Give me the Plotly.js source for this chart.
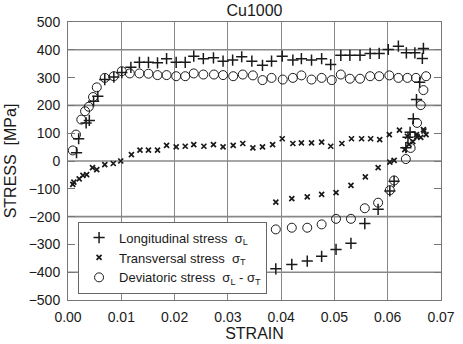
<!DOCTYPE html>
<html>
<head>
<meta charset="UTF-8">
<script src="https://cdn.plot.ly/plotly-3.0.1.min.js"></script>
<style>
	body { margin: 0; background: #fff; }
	#plot { width: 463px; height: 344px; }
</style>
</head>
<body>
<div id="plot"></div>
<script>
	// longitudinal stress sigma_L (MPa) vs strain
	var strainL = [0.0016, 0.0020, 0.0034, 0.0040, 0.0048, 0.0056, 0.0069, 0.0086, 0.0101, 0.0118,
		0.0134, 0.0151, 0.0168, 0.0185, 0.0203, 0.0220, 0.0236, 0.0254, 0.0273, 0.0291,
		0.0309, 0.0326, 0.0345, 0.0365, 0.0382, 0.0402, 0.0422, 0.0438, 0.0457, 0.0476,
		0.0493, 0.0512, 0.0529, 0.0548, 0.0567, 0.0584, 0.0601, 0.0620, 0.0635, 0.0651,
		0.0667, 0.0665, 0.0660, 0.0654, 0.0648, 0.0642, 0.0638, 0.0634,
		0.0612, 0.0604, 0.0582, 0.0557, 0.0531, 0.0503, 0.0476, 0.0449, 0.0420, 0.0390];
	var stressL = [30, 80, 137, 146, 215, 233, 293, 302, 318, 337,
		355, 355, 353, 368, 355, 355, 377, 368, 371, 359,
		363, 375, 359, 344, 359, 377, 363, 368, 363, 368,
		347, 380, 380, 380, 387, 387, 401, 413, 389, 389,
		405, 369, 283, 221, 152, 103, 85, 48,
		-73, -108, -174, -225, -296, -318, -343, -360, -372, -388];

	// transversal stress sigma_T
	var strainT = [0.0009, 0.0011, 0.0021, 0.0028, 0.0035, 0.0046, 0.0054, 0.0069, 0.0085, 0.0099,
		0.0119, 0.0135, 0.0151, 0.0168, 0.0185, 0.0203, 0.0220, 0.0236, 0.0255, 0.0273,
		0.0291, 0.0310, 0.0328, 0.0347, 0.0365, 0.0384, 0.0402, 0.0422, 0.0438, 0.0457,
		0.0476, 0.0493, 0.0514, 0.0532, 0.0551, 0.0568, 0.0585, 0.0603, 0.0622, 0.0637,
		0.0654, 0.0667, 0.0672,
		0.0668, 0.0662, 0.0655, 0.0647, 0.0640, 0.0632, 0.0612, 0.0604,
		0.0582, 0.0558, 0.0531, 0.0503, 0.0476, 0.0449, 0.0420, 0.0390];
	var stressT = [-84, -76, -64, -52, -49, -24, -31, -13, -9, 0,
		23, 39, 39, 39, 56, 51, 53, 59, 53, 59,
		51, 56, 63, 47, 51, 59, 80, 63, 65, 65,
		68, 53, 63, 80, 80, 80, 77, 95, 111, 89,
		95, 113, 95,
		108, 85, 88, 70, 60, 41, 2, -4,
		-24, -57, -88, -114, -120, -129, -135, -148];

	// deviatoric stress sigma_L - sigma_T
	var strainD = [0.0009, 0.0015, 0.0025, 0.0032, 0.0039, 0.0047, 0.0054, 0.0069, 0.0086, 0.0101,
		0.0116, 0.0134, 0.0151, 0.0168, 0.0185, 0.0203, 0.0220, 0.0236, 0.0254, 0.0274,
		0.0291, 0.0310, 0.0328, 0.0347, 0.0365, 0.0382, 0.0403, 0.0422, 0.0438, 0.0457,
		0.0476, 0.0495, 0.0512, 0.0529, 0.0548, 0.0567, 0.0584, 0.0603, 0.0620, 0.0637,
		0.0653, 0.0672,
		0.0667, 0.0662, 0.0655, 0.0648, 0.0643, 0.0634,
		0.0612, 0.0604, 0.0582, 0.0557, 0.0531, 0.0503, 0.0476, 0.0449, 0.0420, 0.0390];
	var stressD = [38, 95, 149, 179, 195, 230, 265, 299, 305, 323,
		315, 315, 314, 309, 309, 305, 305, 315, 311, 311,
		309, 305, 311, 308, 291, 299, 293, 299, 308, 293,
		299, 291, 311, 296, 296, 305, 305, 308, 299, 299,
		299, 305,
		255, 201, 137, 90, 47, 7,
		-70, -105, -150, -170, -208, -208, -228, -240, -240, -246];

	var seriesNames = ['Longitudinal stress  σ<sub>L</sub>', 'Transversal stress  σ<sub>T</sub>', 'Deviatoric stress  σ<sub>L</sub> - σ<sub>T</sub>'];

	var strainRange = [0, 0.07];
	var stressRange = [-500, 500];
	// horizontal grid only every 200 MPa (ticks every 100)
	var stressGridLevels = [-400, -200, 0, 200, 400];

	var ink = '#1a1a1a';
	var gridColor = '#888888';
	var fontFam = 'Arial, "Liberation Sans", sans-serif';

	var traceL = {
		x: strainL, y: stressL, mode: 'markers', type: 'scatter', name: seriesNames[0],
		marker: {symbol: 'cross-thin', size: 8, line: {color: ink, width: 1.5}}
	};
	var traceT = {
		x: strainT, y: stressT, mode: 'markers', type: 'scatter', name: seriesNames[1],
		marker: {symbol: 'x-thin', size: 5, line: {color: ink, width: 1.7}}
	};
	var traceD = {
		x: strainD, y: stressD, mode: 'markers', type: 'scatter', name: seriesNames[2],
		marker: {symbol: 'circle-open', size: 9, color: ink, line: {color: ink, width: 1}}
	};

	// horizontal grid lines, a touch heavier so they survive the screenshot
	var gridShapes = stressGridLevels.map(function(level)
	{
		return {
			type: 'line', layer: 'below',
			xref: 'x', x0: strainRange[0], x1: strainRange[1],
			yref: 'y', y0: level, y1: level,
			line: {color: gridColor, width: 1.6}
		};
	});

	var layout = {
		width: 463,
		height: 344,
		margin: {l: 68, r: 22, t: 22, b: 44},
		paper_bgcolor: '#fff',
		plot_bgcolor: 'rgba(0,0,0,0)',
		font: {family: fontFam, color: ink, size: 14},
		title: {text: 'Cu1000', x: 0.5, xref: 'paper', y: 0.97, yanchor: 'middle', font: {size: 16, color: ink}},
		showlegend: true,
		legend: {
			x: 0.027, y: 0.282, xanchor: 'left', yanchor: 'top',
			bgcolor: '#fff', bordercolor: '#666', borderwidth: 1,
			font: {size: 13, color: ink}, tracegroupgap: 0, itemwidth: 30
		},
		shapes: gridShapes,
		xaxis: {
			range: strainRange, dtick: 0.01, tickformat: '.2f',
			showgrid: true, gridcolor: gridColor, gridwidth: 1,
			showline: true, linecolor: '#777', linewidth: 1, mirror: true,
			zeroline: false, ticks: '', ticklabelstandoff: 4,
			title: {text: 'STRAIN', font: {size: 16}, standoff: 4}
		},
		yaxis: {
			range: stressRange, dtick: 100,
			showgrid: false,
			showline: true, linecolor: '#777', linewidth: 1, mirror: 'ticks',
			zeroline: false, ticks: 'inside', ticklen: 7, tickcolor: '#777',
			ticklabelstandoff: 4,
			title: {text: 'STRESS  [MPa]', font: {size: 16}, standoff: 8}
		}
	};

	Plotly.newPlot('plot', [traceL, traceT, traceD], layout, {displayModeBar: false, staticPlot: true});
</script>
</body>
</html>
